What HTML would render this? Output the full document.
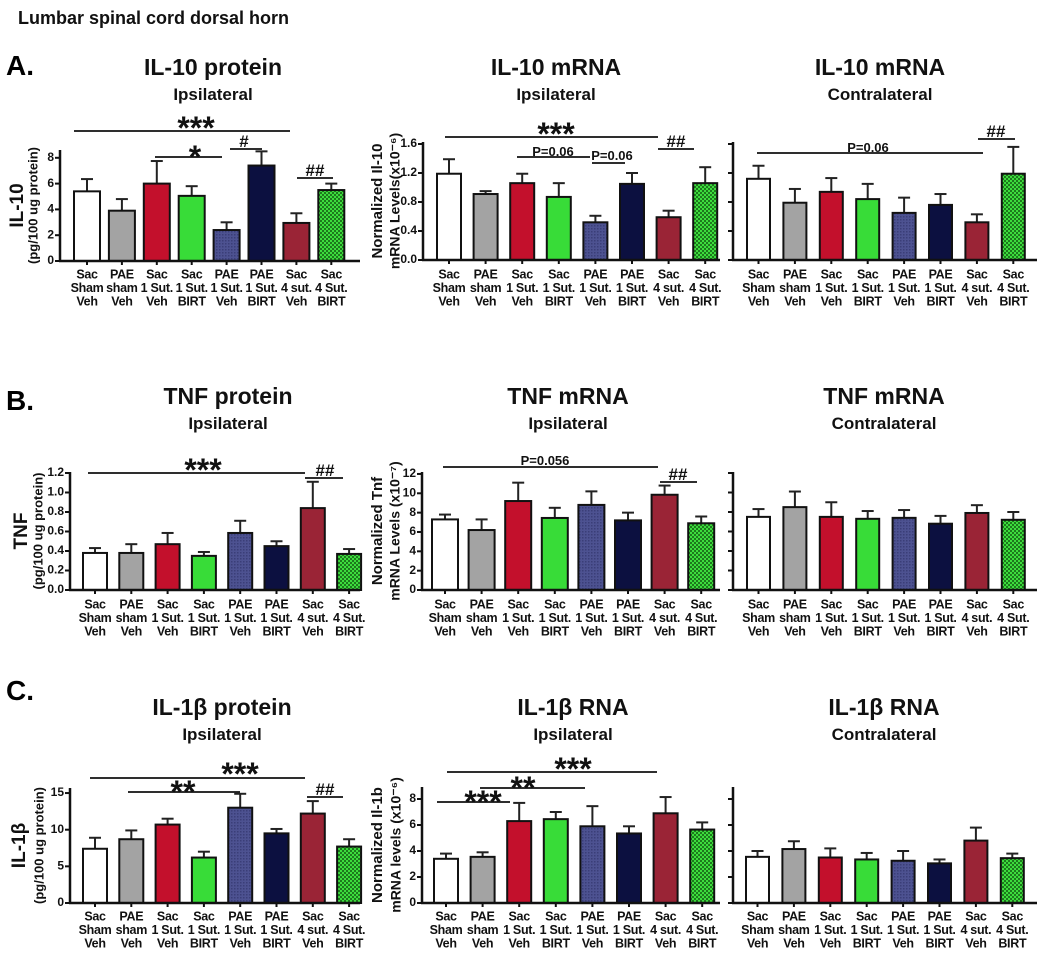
<!DOCTYPE html>
<html><head><meta charset="utf-8">
<style>
html,body{margin:0;padding:0;background:#fff;}
svg{display:block;font-family:"Liberation Sans",Arial,sans-serif;}
</style></head>
<body>
<svg id="fig" width="1050" height="962" viewBox="0 0 1050 962" xmlns="http://www.w3.org/2000/svg">
<defs>
<pattern id="dots" width="3" height="3" patternUnits="userSpaceOnUse"><rect width="3" height="3" fill="#4d5291"/><rect width="1.5" height="1.5" fill="#3a3e78"/></pattern>
<pattern id="check" width="4" height="4" patternUnits="userSpaceOnUse"><rect width="4" height="4" fill="#3ddc3d"/><rect width="2" height="2" fill="#1c7a1c"/><rect x="2" y="2" width="2" height="2" fill="#1c7a1c"/></pattern>
</defs>
<text x="18" y="24" font-size="18" font-weight="bold" fill="#111">Lumbar spinal cord dorsal horn</text>
<text x="6" y="75" font-size="28" font-weight="bold">A.</text>
<text x="6" y="410" font-size="28" font-weight="bold">B.</text>
<text x="6" y="700" font-size="28" font-weight="bold">C.</text>
<g id="charts"></g>
</svg>
<script>
const categories1 = ["Sac","PAE","Sac","Sac","PAE","PAE","Sac","Sac"];
const categories2 = ["Sham","sham","1 Sut.","1 Sut.","1 Sut.","1 Sut.","4 sut.","4 Sut."];
const categories3 = ["Veh","Veh","Veh","BIRT","Veh","BIRT","Veh","BIRT"];

const il10ProteinValues = [5.4,3.9,6.0,5.05,2.4,7.4,2.95,5.5];
const il10ProteinErrors = [6.35,4.8,7.75,5.8,3.0,8.5,3.7,6.0];
const il10IpsiValues = [1.19,0.91,1.06,0.87,0.52,1.05,0.59,1.06];
const il10IpsiErrors = [1.39,0.95,1.19,1.06,0.61,1.2,0.68,1.28];
const il10ContraValues = [1.12,0.79,0.94,0.84,0.65,0.76,0.52,1.19];
const il10ContraErrors = [1.30,0.98,1.13,1.05,0.86,0.91,0.63,1.56];
const tnfProteinValues = [0.38,0.38,0.47,0.35,0.585,0.45,0.84,0.37];
const tnfProteinErrors = [0.43,0.47,0.585,0.39,0.71,0.50,1.11,0.42];
const tnfIpsiValues = [7.3,6.2,9.2,7.45,8.8,7.2,9.85,6.9];
const tnfIpsiErrors = [7.8,7.3,11.1,8.5,10.2,8.0,10.8,7.6];
const tnfContraValues = [7.5,8.5,7.5,7.3,7.4,6.8,7.9,7.2];
const tnfContraErrors = [8.3,10.1,9.0,8.1,8.2,7.6,8.7,8.0];
const il1bProteinValues = [7.4,8.7,10.7,6.2,13.0,9.5,12.2,7.7];
const il1bProteinErrors = [8.9,9.9,11.5,7.0,14.9,10.1,13.9,8.7];
const il1bIpsiValues = [3.4,3.55,6.3,6.45,5.9,5.35,6.9,5.65];
const il1bIpsiErrors = [3.8,3.9,7.7,7.0,7.45,5.9,8.15,6.2];
const il1bContraValues = [3.55,4.15,3.5,3.35,3.25,3.05,4.8,3.45];
const il1bContraErrors = [4.0,4.75,4.2,3.85,4.0,3.35,5.8,3.8];

const ticksA1 = ["0","2","4","6","8"];
const ticksA2 = ["0.0","0.4","0.8","1.2","1.6"];
const ticksB1 = ["0.0","0.2","0.4","0.6","0.8","1.0","1.2"];
const ticksB2 = ["0","2","4","6","8","10","12"];
const ticksC1 = ["0","5","10","15"];
const ticksC2 = ["0","2","4","6","8"];

const fills = ["#ffffff","#a3a3a3","#c3102c","#38dc38","url(#dots)","#0c1040","#9a2436","url(#check)"];
const NS = "http://www.w3.org/2000/svg";
const root = document.getElementById("charts");
function el(tag, attrs, parent){const e=document.createElementNS(NS,tag);for(const k in attrs)e.setAttribute(k,attrs[k]);(parent||root).appendChild(e);return e;}
function txt(x,y,s,size,extra,parent){const t=el("text",Object.assign({x:x,y:y,"font-size":size,"font-weight":"bold","text-anchor":"middle",fill:"#111"},extra||{}),parent);t.textContent=s;return t;}

const panels = [
 {id:"il10-protein",title:"IL-10 protein",sub:"Ipsilateral",tx:213,ty:75,ax:60,zero:261,ymax:8,ytop:150,ppu:12.9,x0:74,bw:26,pitch:34.9,xend:360,lab:275,vals:il10ProteinValues,errs:il10ProteinErrors,ticks:ticksA1,tstep:2,ytitle:["IL-10","(pg/100 ug protein)"],yx:[18,34]},
 {id:"il10-mrna-ipsi",title:"IL-10 mRNA",sub:"Ipsilateral",tx:556,ty:75,ax:423,zero:260,ymax:1.6,ytop:142,ppu:72.5,x0:437,bw:24,pitch:36.6,xend:720,lab:275,vals:il10IpsiValues,errs:il10IpsiErrors,ticks:ticksA2,tstep:0.4,ytitle:["Normalized Il-10","mRNA  Levels(x10\u207B\u2076)"],yx:[378,396]},
 {id:"il10-mrna-contra",title:"IL-10 mRNA",sub:"Contralateral",tx:880,ty:75,ax:733,zero:260,ymax:1.6,ytop:142,ppu:72.5,x0:747,bw:23,pitch:36.4,xend:1037,lab:275,vals:il10ContraValues,errs:il10ContraErrors,ticks:null,tstep:0.4},
 {id:"tnf-protein",title:"TNF protein",sub:"Ipsilateral",tx:228,ty:404,ax:70,zero:590,ymax:1.2,ytop:472,ppu:97.5,x0:83,bw:24,pitch:36.3,xend:360,lab:605,vals:tnfProteinValues,errs:tnfProteinErrors,ticks:ticksB1,tstep:0.2,ytitle:["TNF","(pg/100 ug protein)"],yx:[22,39]},
 {id:"tnf-mrna-ipsi",title:"TNF mRNA",sub:"Ipsilateral",tx:568,ty:404,ax:422,zero:590,ymax:12,ytop:472,ppu:9.67,x0:432,bw:26,pitch:36.6,xend:720,lab:605,vals:tnfIpsiValues,errs:tnfIpsiErrors,ticks:ticksB2,tstep:2,ytitle:["Normalized Tnf","mRNA  Levels (x10\u207B\u2077)"],yx:[378,396]},
 {id:"tnf-mrna-contra",title:"TNF mRNA",sub:"Contralateral",tx:884,ty:404,ax:733,zero:590,ymax:12,ytop:472,ppu:9.75,x0:747,bw:23,pitch:36.4,xend:1037,lab:605,vals:tnfContraValues,errs:tnfContraErrors,ticks:null,tstep:2},
 {id:"il1b-protein",title:"IL-1\u03B2 protein",sub:"Ipsilateral",tx:222,ty:715,ax:70,zero:903,ymax:15,ytop:788,ppu:7.33,x0:83,bw:24,pitch:36.3,xend:360,lab:917,vals:il1bProteinValues,errs:il1bProteinErrors,ticks:ticksC1,tstep:5,ytitle:["IL-1\u03B2","(pg/100 ug protein)"],yx:[20,40]},
 {id:"il1b-rna-ipsi",title:"IL-1\u03B2 RNA",sub:"Ipsilateral",tx:573,ty:715,ax:422,zero:903,ymax:8,ytop:787,ppu:13,x0:434,bw:24,pitch:36.6,xend:720,lab:917,vals:il1bIpsiValues,errs:il1bIpsiErrors,ticks:ticksC2,tstep:2,ytitle:["Normalized Il-1b","mRNA levels (x10\u207B\u2076)"],yx:[378,397]},
 {id:"il1b-rna-contra",title:"IL-1\u03B2 RNA",sub:"Contralateral",tx:884,ty:715,ax:733,zero:903,ymax:8,ytop:787,ppu:13,x0:746,bw:23,pitch:36.4,xend:1037,lab:917,vals:il1bContraValues,errs:il1bContraErrors,ticks:null,tstep:2}
];

panels.forEach(p=>{
  const g = el("g",{});
  
  
  const yS = v => p.zero - v*p.ppu;
  const xS = i => p.x0 + i*p.pitch;
  const t1 = txt(p.tx,p.ty,p.title,23,{},g);
  
  
  const t2 = txt(p.tx,p.ty+25,p.sub,17,{},g);
  
  
  p.vals.forEach((v,i)=>{
    const x=xS(i), cx=x+p.bw/2, e=p.errs[i];
    const ln = el("line",{x1:cx,x2:cx,y1:yS(v),y2:yS(e),stroke:"#222","stroke-width":2},g);
    
    
    const cap = el("line",{x1:cx-6,x2:cx+6,y1:yS(e),y2:yS(e),stroke:"#222","stroke-width":2},g);
    
    
    const r = el("rect",{x:x,y:yS(v),width:p.bw,height:p.zero-yS(v),fill:fills[i],stroke:"#111","stroke-width":2},g);
    
    
    const tk = el("line",{x1:cx,x2:cx,y1:p.zero,y2:p.zero+4,stroke:"#111","stroke-width":2},g);
    
    
    [categories1[i],categories2[i],categories3[i]].forEach((s,k)=>{
      const lt = txt(cx,p.lab+k*13.5,s,12.5,{"dominant-baseline":"middle","letter-spacing":"-0.3"},g);
      
      
    });
  });
  const ya = el("line",{x1:p.ax,x2:p.ax,y1:p.ytop,y2:p.zero+1,stroke:"#111","stroke-width":2.5},g);
  
  
  const xa = el("line",{x1:p.ax-1,x2:p.xend,y1:p.zero,y2:p.zero,stroke:"#111","stroke-width":2.5},g);
  
  
  const n = Math.round(p.ymax/p.tstep);
  for(let k=0;k<=n;k++){
    const y=yS(k*p.tstep);
    const t = el("line",{x1:p.ax-5,x2:p.ax,y1:y,y2:y,stroke:"#111","stroke-width":2},g);
    
    
    if(p.ticks){
      const tl = txt(p.ax-6,y,p.ticks[k],12,{"text-anchor":"end","dominant-baseline":"middle"},g);
      
      
    }
  }
  if(p.ytitle){
    const mid=(p.zero+p.ytop)/2;
    const big = p.ytitle[0].length>8;
    const a = txt(p.yx[0],mid,p.ytitle[0],big?15:19,{transform:`rotate(-90 ${p.yx[0]} ${mid})`,"dominant-baseline":"middle"},g);
    
    
    const b = txt(p.yx[1],mid,p.ytitle[1],big?14:13,{transform:`rotate(-90 ${p.yx[1]} ${mid})`,"dominant-baseline":"middle"},g);
    
    
  }
});

const annotations = [
 [74,290,131,"***",196,139,32],[155,222,157,"*",195,168,32],[230,262,149,"#",244,147,17],[297,333,178,"##",315,176,17],
 [445,658,137,"***",556,145,32],[658,694,149,"##",676,147,17],[517,590,157,"P=0.06",553,156,13],[592,625,163,"P=0.06",612,160,13],
 [757,983,153,"P=0.06",868,152,13],[978,1015,139,"##",996,137,17],
 [88,305,473,"***",203,481,32],[305,343,478,"##",325,476,17],
 [443,658,467,"P=0.056",545,465,13],[660,697,482,"##",678,480,17],
 [90,305,778,"***",240,785,32],[128,240,792,"**",183,803,32],[307,343,797,"##",325,795,17],
 [447,657,772,"***",573,780,32],[480,585,788,"**",523,799,32],[437,510,802,"***",483,813,32]
];
annotations.forEach(a=>{
  const l = el("line",{x1:a[0],x2:a[1],y1:a[2],y2:a[2],stroke:"#111","stroke-width":1.8});
  
  
  const t = txt(a[4],a[5],a[3],a[6],{});
  
  
});
</script>
</body></html>
